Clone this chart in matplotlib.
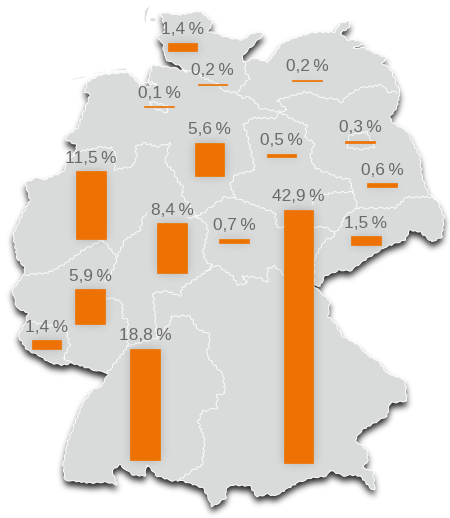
import numpy as np
import matplotlib
matplotlib.use('Agg')
import matplotlib.pyplot as plt
from matplotlib.path import Path
from matplotlib.patches import Polygon

# shares per federal state
shares = [1.4, 0.2, 0.2, 0.1, 5.6, 0.5, 0.3, 0.6, 11.5, 42.9, 1.5, 8.4, 0.7, 5.9, 1.4, 18.8]
bar_x = [182.5, 212.5, 307, 159, 209.5, 281.5, 360, 382, 91, 298.5, 366, 172, 234, 90, 46.5, 145]
bar_base = [51, 85, 81, 107, 176, 156.5, 142.5, 187, 239, 463, 245, 273, 243, 324, 348.5, 459.5]

WIDTH, HEIGHT = 450, 518
PX_PER_PERCENT = 5.9
MAP_GREY = '#d9dbdb'
ORANGE = '#ee7203'
TEXT_GREY = '#6a6a6a'

# outline of the country in image pixels
outline = [
    (161, 12), (177, 15), (190, 13), (200, 11), (213, 22), (208, 32), (217, 33), (225, 37), (242, 40),
    (253, 33), (262, 32), (263, 35), (255, 43), (243, 55), (243, 63), (253, 58), (268, 62), (275, 53),
    (282, 43), (297, 37), (310, 33), (318, 32), (335, 32), (340, 23), (350, 21), (349, 28), (340, 33),
    (348, 40), (357, 40), (365, 43), (353, 48), (365, 48), (373, 52), (387, 58), (382, 63), (391, 70),
    (395, 80), (400, 92), (397, 107), (390, 117), (392, 122), (408, 132), (413, 143), (420, 157),
    (422, 177), (428, 193), (438, 202), (444, 217), (442, 237), (432, 242), (420, 232), (410, 230),
    (405, 240), (385, 247), (368, 258), (350, 271), (340, 270), (325, 276), (320, 286), (313, 285),
    (330, 301), (328, 316), (335, 323), (342, 336), (358, 345), (367, 355), (378, 361), (387, 373),
    (405, 380), (407, 401), (390, 403), (387, 416), (362, 430), (355, 440), (367, 450), (368, 460),
    (363, 468), (373, 471), (375, 490), (370, 488), (360, 476), (352, 475), (343, 476), (330, 470),
    (327, 476), (310, 478), (297, 483), (275, 496), (267, 494), (257, 497), (250, 486), (230, 485),
    (226, 490), (226, 498), (212, 507), (208, 497), (203, 488), (180, 480), (173, 481), (157, 476),
    (147, 465), (145, 476), (133, 475), (120, 465), (112, 470), (117, 485), (107, 482), (90, 483),
    (73, 481), (65, 480), (63, 465), (68, 441), (82, 405), (92, 390), (102, 386), (108, 373), (97, 371),
    (72, 363), (63, 365), (50, 363), (40, 356), (27, 350), (18, 336), (25, 323), (28, 313), (17, 308),
    (12, 290), (23, 276), (25, 268), (17, 258), (13, 235), (23, 213), (30, 200), (25, 183), (37, 177),
    (43, 180), (63, 172), (67, 163), (75, 152), (77, 145), (66, 140), (67, 135), (78, 128), (90, 95),
    (85, 92), (87, 82), (100, 75), (127, 72), (138, 82), (140, 87), (150, 87), (148, 80), (153, 65),
    (175, 68), (187, 72), (180, 66), (167, 60), (164, 55), (163, 43), (157, 38), (165, 30), (163, 20),
]

islands = [
    [(151, 4), (145, 10), (144, 20), (147, 25), (146, 19), (148, 11)],
    [(150, 18), (156, 18), (155, 22), (150, 21)],
    [(70, 79), (85, 76), (88, 77), (72, 80)],
    [(93, 73), (105, 71), (106, 72), (94, 74)],
    [(110, 70), (126, 68), (127, 70), (111, 71)],
]

# borders between the states
state_borders = [
    [(185, 70), (197, 72), (203, 78), (217, 83), (222, 90), (237, 93), (243, 98), (250, 97), (260, 108), (280, 112)],
    [(237, 92), (250, 78), (245, 72), (245, 63)],
    [(280, 112), (287, 110), (277, 100), (295, 95), (305, 92), (313, 93), (322, 98), (335, 99), (342, 102),
     (348, 95), (360, 88), (375, 86), (382, 85), (388, 92), (397, 92)],
    [(280, 112), (275, 118), (253, 118), (243, 125), (247, 133), (255, 170), (235, 175), (230, 185), (235, 198),
     (225, 197), (207, 210), (197, 217)],
    [(280, 112), (293, 120), (307, 125), (305, 137), (315, 143), (310, 157), (315, 168), (338, 177), (350, 180),
     (353, 193), (358, 208), (395, 208), (407, 197), (435, 197), (438, 202)],
    [(353, 192), (335, 192), (313, 198), (313, 205)],
    [(235, 198), (265, 209), (275, 213), (277, 227), (284, 227)],
    [(313, 227), (325, 227), (335, 233), (333, 238), (325, 240), (322, 245), (315, 258), (313, 285)],
    [(358, 208), (345, 215), (340, 228), (335, 233)],
    [(67, 163), (77, 152), (100, 147), (112, 148), (117, 157), (114, 163), (115, 170), (133, 166), (137, 157),
     (135, 147), (145, 143), (157, 147), (170, 143), (165, 163), (173, 170), (177, 180), (183, 187), (182, 195),
     (197, 217), (205, 222), (208, 230), (203, 253), (206, 262), (212, 265), (207, 271), (182, 288), (180, 296),
     (167, 291), (153, 293), (155, 315), (157, 338), (128, 346), (117, 361), (107, 373)],
    [(207, 271), (217, 265), (225, 271), (233, 276), (237, 285), (247, 283), (242, 276), (260, 278), (267, 283),
     (268, 268), (275, 266), (284, 275)],
    [(157, 338), (170, 323), (172, 316), (190, 316), (197, 328), (210, 335), (207, 356), (223, 375), (225, 393),
     (217, 395), (217, 408), (203, 411), (198, 421), (205, 441), (202, 465), (192, 471), (177, 481)],
    [(25, 275), (47, 273), (63, 265), (83, 250), (103, 240), (117, 257), (113, 270), (105, 282)],
    [(105, 298), (115, 299), (122, 303), (123, 318), (128, 320), (128, 346)],
    [(143, 217), (140, 230), (125, 240), (117, 257)],
    [(143, 217), (147, 213)],
    [(187, 217), (197, 217)],
    [(27, 321), (45, 325), (60, 326), (67, 333), (70, 346), (63, 358), (72, 363)],
    # city states
    [(150, 102), (153, 108), (167, 113), (168, 107), (155, 102), (150, 102)],
    [(140, 82), (157, 85), (148, 80)],
    [(347, 143), (350, 135), (367, 132), (375, 147), (360, 150), (347, 147), (347, 143)],
]


def blurred(mask, sigma):
    radius = int(3 * sigma)
    kernel = np.exp(-0.5 * (np.arange(-radius, radius + 1) / sigma) ** 2)
    kernel /= kernel.sum()
    mask = np.apply_along_axis(lambda col: np.convolve(col, kernel, mode='same'), 0, mask)
    return np.apply_along_axis(lambda row: np.convolve(row, kernel, mode='same'), 1, mask)


def shadow_rgba(mask, strength):
    rgba = np.zeros((HEIGHT, WIDTH, 4))
    rgba[..., 3] = mask * strength
    return rgba


yy, xx = np.mgrid[0:HEIGHT, 0:WIDTH]
pixels = np.column_stack([xx.ravel() + 0.5, yy.ravel() + 0.5])

bar_heights = np.array(shares) * PX_PER_PERCENT
map_mask = Path(outline).contains_points(pixels).reshape(HEIGHT, WIDTH).astype(float)
map_shadow = blurred(np.roll(map_mask, 5, axis=0), 3.2)

bar_mask = np.zeros((HEIGHT, WIDTH))
for x, base, h in zip(bar_x, bar_base, bar_heights):
    bar_mask[(xx > x - 15) & (xx < x + 15) & (yy > base - h) & (yy < base)] = 1
bar_shadow = blurred(bar_mask, 5.0)

fig = plt.figure(figsize=(WIDTH / 100, HEIGHT / 100), dpi=100)
ax = fig.add_axes([0, 0, 1, 1])
extent = (0, WIDTH, HEIGHT, 0)

ax.imshow(shadow_rgba(map_shadow, 0.85), extent=extent, zorder=1, interpolation='bilinear')
country = Polygon(outline, closed=True, fc=MAP_GREY, ec='white', lw=0.7, zorder=2)
country.set_sketch_params(scale=0.6, length=9, randomness=3)
ax.add_patch(country)
for island in islands:
    ax.add_patch(Polygon(island, closed=True, fc=MAP_GREY, ec='white', lw=0.6, zorder=2))
for border in state_borders:
    xs, ys = zip(*border)
    line, = ax.plot(xs, ys, color='white', lw=0.6, solid_joinstyle='round', zorder=3)
    line.set_sketch_params(scale=0.9, length=8, randomness=3)

ax.imshow(shadow_rgba(bar_shadow, 0.2), extent=extent, zorder=4, interpolation='bilinear')
ax.bar(bar_x, -bar_heights, bottom=bar_base, width=29.3, color=ORANGE, edgecolor=ORANGE, linewidth=0.5, zorder=5)

for x, base, h, share in zip(bar_x, bar_base, bar_heights, shares):
    label = f'{share:.1f}'.replace('.', ',') + '\u2009%'
    ax.text(x, base - h - 8.5, label, ha='center', va='baseline', color=TEXT_GREY,
            fontsize=12.4, family='Liberation Sans', zorder=6)

ax.set_xlim(0, WIDTH)
ax.set_ylim(HEIGHT, 0)
ax.axis('off')
fig.savefig('out.png', dpi=100)
